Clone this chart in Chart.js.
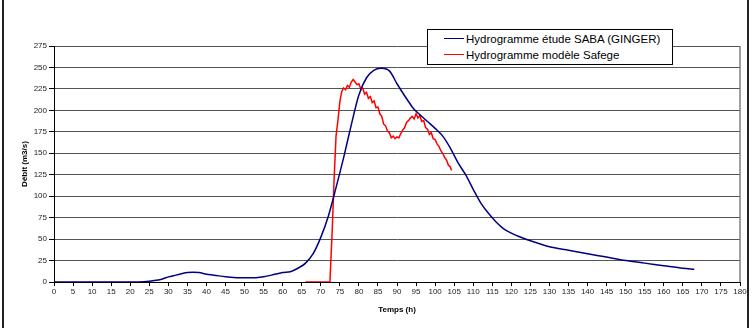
<!DOCTYPE html>
<html>
<head>
<meta charset="utf-8">
<script src="https://cdn.jsdelivr.net/npm/chart.js@4"></script>
<style>
  html, body { margin: 0; padding: 0; background: #fff; }
  #wrap { position: relative; width: 755px; height: 329px; }
  #frameL, #frameR { position: absolute; top: 0; width: 2px; height: 328px; background: #222; }
  #frameL { left: 2px; }
  #frameR { left: 747px; }
  #legend { position: absolute; left: 427px; top: 29px; width: 244px; height: 34px; border: 1px solid #000; background: #fff;
            font-family: "Liberation Sans", Arial, sans-serif; font-size: 11.5px; color: #000; }
  .row { position: absolute; left: 16px; height: 14px; line-height: 14px; white-space: nowrap; }
  .row span.sw { display: inline-block; width: 20px; height: 0; border-top: 1.5px solid; vertical-align: middle; margin-right: 2px; position: relative; top: -1px; }
</style>
</head>
<body>
<div id="wrap">
  <canvas id="c" width="755" height="329"></canvas>
  <div id="frameL"></div>
  <div id="frameR"></div>
  <div id="legend"></div>
</div>
<script>
// ---- Data ----
const sabaLabel = "Hydrogramme étude SABA (GINGER)";
const safegeLabel = "Hydrogramme modèle Safege";

const sabaHours = [0, 5, 10, 15, 20, 22, 25, 28, 30, 32, 35, 38, 40, 42, 45, 48, 50, 53, 55, 58, 60, 62, 64, 66, 68, 70, 72, 74, 76, 78, 80, 82, 84, 86, 88, 90, 92, 94, 95, 98, 100, 102, 104, 106, 108, 110, 112, 114, 116, 118, 120, 122, 125, 130, 135, 140, 145, 150, 155, 160, 165, 168];
const sabaFlow  = [0, 0, 0, 0, 0, 0, 1, 3, 6, 8, 11, 11, 9, 8, 6, 5, 5, 5, 6, 9, 11, 12, 16, 22, 33, 52, 77, 110, 145, 183, 218, 238, 247, 249, 246, 231, 217, 204, 199, 187, 179, 170, 156, 139, 125, 108, 92, 80, 70, 62, 57, 53, 48, 41, 37, 33, 29, 25, 22, 19, 16, 15];

const safegeHours = [66, 72.4, 73, 73.5, 74, 74.5, 75, 75.5, 76, 76.5, 77, 77.5, 78, 78.5, 79, 79.5, 80, 80.5, 81, 81.5, 82, 82.5, 83, 83.5, 84, 84.5, 85, 85.5, 86, 86.5, 87, 87.5, 88, 88.5, 89, 89.5, 90, 90.5, 91, 91.5, 92, 92.5, 93, 93.5, 94, 94.5, 95, 95.5, 96, 96.5, 97, 97.5, 98, 98.5, 99, 99.5, 100, 100.5, 101, 101.5, 102, 102.5, 103, 103.5, 104, 104.3];
const safegeFlow  = [0, 0, 60, 120, 170, 188, 210, 222, 226, 224, 229, 227, 233, 236, 233, 230, 231, 225, 226, 219, 221, 214, 216, 209, 211, 203, 204, 196, 193, 184, 182, 176, 174, 168, 170, 167, 169, 168, 173, 177, 180, 186, 188, 191, 193, 190, 196, 191, 194, 187, 188, 180, 178, 172, 174, 167, 166, 161, 158, 153, 150, 145, 142, 136, 134, 130];

const xTicksMax = 180, xStep = 5;
const yTicksMax = 275, yStep = 25;
const xTitle = "Temps (h)";
const yTitle = "Débit (m3/s)";

const toPts = (xs, ys) => xs.map((x, i) => ({x: x, y: ys[i]}));

const sabaColor = "#000080";
const safegeColor = "#ff0000";

// legend (HTML)
const leg = document.getElementById('legend');
[[sabaLabel, sabaColor, 2], [safegeLabel, safegeColor, 18]].forEach(([t, col, top]) => {
  const d = document.createElement('div');
  d.className = 'row';
  d.style.top = top + 'px';
  const s = document.createElement('span');
  s.className = 'sw';
  s.style.borderColor = col;
  d.appendChild(s);
  d.appendChild(document.createTextNode(t));
  leg.appendChild(d);
});

const rightBorder = {
  id: 'rightBorder',
  beforeDatasetsDraw(chart) {
    const {ctx, chartArea: a} = chart;
    ctx.save();
    ctx.strokeStyle = '#808080';
    ctx.lineWidth = 1.5;
    ctx.beginPath();
    ctx.moveTo(a.right, a.top);
    ctx.lineTo(a.right, a.bottom);
    ctx.stroke();
    ctx.restore();
  }
};

const tickFont = { family: "'Liberation Sans', Arial, sans-serif", size: 8 };
const titleFont = { family: "'Liberation Sans', Arial, sans-serif", size: 8, weight: 'bold' };

new Chart(document.getElementById('c'), {
  type: 'scatter',
  data: {
    datasets: [
      { label: sabaLabel, data: toPts(sabaHours, sabaFlow), showLine: true, borderColor: sabaColor, borderWidth: 1.5, pointRadius: 0, tension: 0.3 },
      { label: safegeLabel, data: toPts(safegeHours, safegeFlow), showLine: true, borderColor: safegeColor, borderWidth: 1.5, pointRadius: 0, tension: 0 }
    ]
  },
  options: {
    responsive: false,
    animation: false,
    events: [],
    layout: { padding: { left: 0, top: 46, right: 15, bottom: 0 } },
    plugins: { legend: { display: false }, tooltip: { enabled: false } },
    scales: {
      x: {
        type: 'linear', min: 0, max: xTicksMax,
        ticks: { stepSize: xStep, font: tickFont, color: '#222', maxRotation: 0, autoSkip: false, padding: 1 },
        grid: { drawOnChartArea: false, drawTicks: true, tickLength: 4, color: '#000' },
        border: { color: '#000', width: 1 },
        title: { display: true, text: xTitle, font: titleFont, color: '#000', padding: { top: 14, bottom: 14 } },
        afterFit(s) { s.height = 47; }
      },
      y: {
        min: 0, max: yTicksMax,
        ticks: { stepSize: yStep, font: tickFont, color: '#222', padding: 2 },
        grid: { color: '#555', lineWidth: 1, drawTicks: true, tickLength: 5, tickColor: '#000' },
        border: { color: '#000', width: 1 },
        title: { display: true, text: yTitle, font: titleFont, color: '#000', padding: { top: 20, bottom: 20 } },
        afterFit(s) { s.width = 54; }
      }
    }
  },
  plugins: [rightBorder]
});
</script>
</body>
</html>
